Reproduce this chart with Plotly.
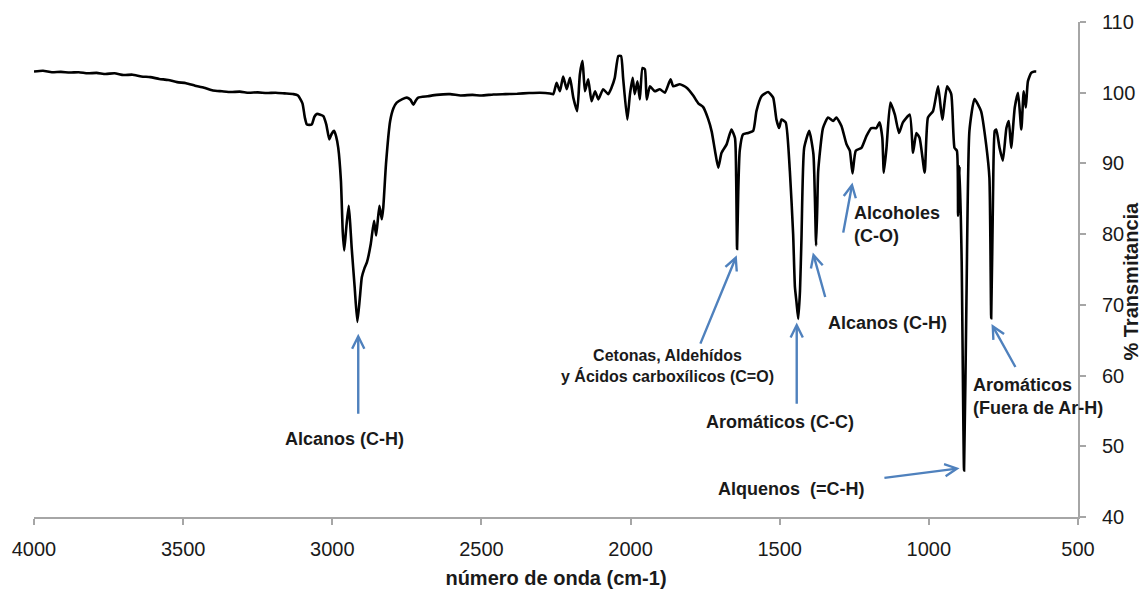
import plotly.graph_objects as go

# IR spectrum: wavenumber (cm-1) vs % transmittance
wavenumber = [
    4000, 3970, 3940, 3910, 3880, 3850, 3820, 3790, 3760, 3730, 3700, 3670, 3640, 3610,
    3580, 3550, 3520, 3490, 3460, 3430, 3400, 3370, 3340, 3310, 3280, 3250, 3220, 3190,
    3160, 3130, 3115, 3100, 3092, 3085, 3069, 3060, 3052, 3040, 3030, 3020, 3010, 3002,
    2994, 2987, 2980, 2971, 2965, 2960, 2953, 2945, 2940, 2935, 2925, 2916, 2908, 2901,
    2892, 2884, 2871, 2860, 2853, 2842, 2834, 2829, 2820, 2806, 2795, 2784, 2765, 2750,
    2738, 2728, 2720, 2712, 2680, 2650, 2605, 2570, 2530, 2500, 2460, 2420, 2380, 2340,
    2304, 2270, 2259, 2248, 2237, 2226, 2214, 2203, 2192, 2179, 2170, 2161, 2153, 2142,
    2131, 2119, 2108, 2092, 2075, 2064, 2053, 2041, 2032, 2025, 2011, 2002, 1993, 1986,
    1977, 1969, 1960, 1952, 1946, 1935, 1919, 1902, 1885, 1866, 1857, 1835, 1812, 1790,
    1773, 1757, 1740, 1728, 1717, 1706, 1695, 1678, 1662, 1650, 1646, 1643, 1639, 1634,
    1623, 1606, 1589, 1578, 1561, 1539, 1522, 1511, 1502, 1494, 1480, 1466, 1455, 1449,
    1444, 1438, 1432, 1427, 1418, 1401, 1387, 1382, 1378, 1374, 1371, 1355, 1338, 1321,
    1310, 1293, 1276, 1265, 1256, 1245, 1226, 1209, 1193, 1176, 1165, 1156, 1151, 1142,
    1129, 1114, 1100, 1087, 1064, 1053, 1042, 1031, 1014, 1003, 986, 969, 955, 939,
    925, 914, 906, 902, 897, 890, 882, 874, 864, 847, 825, 808, 797, 791,
    785, 779, 774, 763, 752, 740, 732, 724, 712, 701, 690, 682, 675, 668,
    657, 646, 640,
]
transmittance = [
    103.0, 103.1, 102.9, 102.95, 102.85, 102.9, 102.75, 102.8, 102.65, 102.75, 102.5, 102.55, 102.3, 102.2,
    101.95, 101.8, 101.5, 101.35, 101.0, 100.7, 100.3, 100.2, 100.1, 100.15, 100.0, 100.05, 99.95, 100.0,
    99.9, 99.8, 99.6, 98.5, 96.5, 95.5, 95.5, 96.6, 97.0, 96.9, 96.7, 95.5, 93.4, 94.2,
    94.6, 93.8, 92.2, 87.5, 80.4, 77.7, 81.0, 84.0, 81.5, 78.1, 72.5, 67.6, 70.8, 73.9,
    75.2, 76.0, 78.6, 81.9, 79.8, 84.0, 82.1, 83.8, 89.9, 96.0, 97.8, 98.6, 99.1, 99.3,
    99.0, 98.3, 98.9, 99.3, 99.5, 99.7, 99.8, 99.6, 99.7, 99.6, 99.75, 99.8, 99.85, 99.95,
    100.0, 99.9, 99.8, 101.4, 100.2, 102.3, 100.5, 102.1, 99.3, 97.4, 102.6, 104.5, 100.2, 101.9,
    98.8, 100.2, 99.05, 100.5, 99.8, 100.7, 102.1, 105.2, 105.2, 102.1, 96.2, 99.8, 102.1, 99.8,
    101.6, 99.05, 103.5, 103.3, 99.05, 100.9, 100.2, 100.5, 100.0, 101.9, 100.9, 101.2, 100.7, 99.6,
    98.5, 98.0, 96.3, 94.5, 91.8, 89.4, 91.5, 92.7, 94.8, 93.6, 88.0, 77.9, 86.0, 91.8,
    94.1, 94.3, 94.6, 97.4, 99.5, 100.1, 99.3, 96.2, 95.0, 96.2, 95.8, 88.9, 80.0, 72.5,
    70.5, 68.0, 72.0, 79.5, 92.2, 94.6, 91.3, 85.0, 78.4, 84.0, 88.9, 95.0, 96.5, 96.0,
    96.5, 95.3, 92.7, 91.8, 88.6, 91.8, 92.2, 93.9, 95.0, 95.0, 95.8, 93.6, 88.7, 92.2,
    98.6, 96.9, 94.3, 95.8, 96.9, 91.5, 94.3, 93.6, 88.7, 96.5, 97.4, 100.9, 96.2, 100.9,
    99.8, 92.2, 91.8, 82.6, 89.6, 76.2, 46.6, 70.6, 94.6, 99.1, 97.4, 92.7, 88.0, 68.1,
    85.2, 94.6, 94.8, 92.2, 90.4, 95.0, 96.0, 92.2, 97.9, 100.0, 94.8, 100.2, 97.9, 101.6,
    102.8, 103.0, 103.0,
]

# Band labels: text, position, anchor, size
label_texts = [
    "Alcanos (C-H)",
    "Cetonas, Aldehídos<br>y Ácidos carboxílicos (C=O)",
    "Aromáticos (C-C)",
    "Alcanos (C-H)",
    "Alcoholes<br>(C-O)",
    "Aromáticos<br>(Fuera de Ar-H)",
    "Alquenos\u00a0 (=C-H)",
]
label_x = [2958, 1875, 1500, 1138, 1258, 859, 1462]
label_y = [51.1, 61.3, 53.4, 67.5, 81.4, 57.1, 44.0]
label_anchor = ["center", "center", "center", "center", "left", "left", "center"]
label_size = [18, 16, 18, 18, 18, 18, 18]

# Arrows pointing at the bands: tail -> head
arrow_tail_x = [2913, 1768, 1443, 1346, 1288, 707, 1154]
arrow_tail_y = [54.4, 64.3, 55.8, 70.9, 80.0, 61.0, 45.5]
arrow_head_x = [2913, 1644, 1443, 1389, 1256, 790, 897]
arrow_head_y = [65.9, 77.0, 67.5, 77.4, 87.3, 67.3, 46.9]

x_ticks = [4000, 3500, 3000, 2500, 2000, 1500, 1000, 500]
y_ticks = [40, 50, 60, 70, 80, 90, 100, 110]

FONT = "Liberation Sans, Arial, sans-serif"
TEXT = "#1a1a1a"
AXIS = "#a6a6a6"
ARROW = "#4f81bd"

fig = go.Figure()
fig.add_trace(go.Scatter(
    x=wavenumber, y=transmittance, mode="lines",
    line=dict(color="black", width=2.6, shape="spline", smoothing=0.5),
    hoverinfo="skip", showlegend=False,
))

for tx, ty, hx, hy in zip(arrow_tail_x, arrow_tail_y, arrow_head_x, arrow_head_y):
    fig.add_annotation(
        x=hx, y=hy, ax=tx, ay=ty, xref="x", yref="y", axref="x", ayref="y",
        text="", showarrow=True, arrowhead=5, arrowsize=1.0, arrowwidth=2.4,
        arrowcolor=ARROW, standoff=0, startstandoff=0,
    )

for t, lx, ly, anc, sz in zip(label_texts, label_x, label_y, label_anchor, label_size):
    fig.add_annotation(
        x=lx, y=ly, xref="x", yref="y", text=t, showarrow=False,
        xanchor=anc, yanchor="middle", align="left" if anc == "left" else "center",
        font=dict(family=FONT, size=sz, color=TEXT, weight="bold"),
    )

# Y-axis title, rotated, to the right of the tick labels
fig.add_annotation(
    x=1.0505, y=0.477, xref="paper", yref="paper", text="% Transmitancia",
    showarrow=False, textangle=-90, xanchor="center", yanchor="middle",
    font=dict(family=FONT, size=20, color=TEXT, weight="bold"),
)

fig.update_layout(
    width=1144, height=592, autosize=False,
    margin=dict(l=34, r=66, t=22, b=75),
    paper_bgcolor="white", plot_bgcolor="white",
    font=dict(family=FONT, color=TEXT),
    xaxis=dict(
        range=[4000, 500], tickvals=x_ticks, ticktext=[str(v) for v in x_ticks],
        ticks="outside", ticklen=6, tickwidth=1.5, tickcolor=AXIS,
        showline=True, linecolor=AXIS, linewidth=1.8,
        showgrid=False, zeroline=False, automargin=False,
        tickfont=dict(family=FONT, size=20, color=TEXT),
        ticklabelstandoff=7,
        title=dict(text="número de onda (cm-1)", standoff=12,
                   font=dict(family=FONT, size=20, color=TEXT, weight="bold")),
    ),
    yaxis=dict(
        range=[40, 110], tickvals=y_ticks, side="right",
        ticks="outside", ticklen=6, tickwidth=1.5, tickcolor=AXIS,
        showline=True, linecolor=AXIS, linewidth=1.8,
        showgrid=False, zeroline=False, automargin=False,
        tickfont=dict(family=FONT, size=20, color=TEXT),
        ticklabelstandoff=12,
    ),
)

fig.write_html("out.html", config={"displayModeBar": False})
